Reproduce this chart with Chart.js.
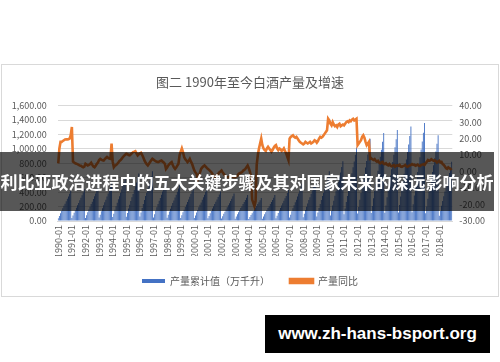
<!DOCTYPE html>
<html>
<head>
<meta charset="utf-8">
<script src="https://cdn.jsdelivr.net/npm/chart.js@4.4.1/dist/chart.umd.min.js"></script>
<style>
  html, body { margin: 0; padding: 0; background: #fff; }
  #wrap { position: relative; width: 500px; height: 362px; overflow: hidden; }
  #chart { position: absolute; left: 0; top: 0; }
  #frame { position: absolute; left: 1px; top: 64px; width: 496px; height: 231px; border: 1px solid #d9d9d9; pointer-events: none; }
  #banner { position: absolute; left: 0; top: 152px; width: 494px; height: 59px; background: rgba(0,0,0,0.66);
    color: #fff; font: bold 17px "Noto Sans CJK SC", sans-serif; line-height: 59px; text-align: center; white-space: nowrap; }
  #mark { position: absolute; left: 265px; top: 315px; width: 225px; height: 38px; background: #000;
    color: #fff; font: bold 17px "Liberation Sans", Arial, sans-serif; line-height: 38px; text-align: center; }
</style>
</head>
<body>
<div id="wrap">
  <div id="frame"></div>
  <canvas id="chart" width="500" height="362"></canvas>
  <div id="banner">利比亚政治进程中的五大关键步骤及其对国家未来的深远影响分析</div>
  <div id="mark">www.zh-hans-bsport.org</div>
</div>
<script>
document.addEventListener("DOMContentLoaded", () => {

  // =============================
  // DATA
  // =============================

  const years = [1990, 1991, 1992, 1993, 1994, 1995, 1996, 1997, 1998, 1999,
    2000, 2001, 2002, 2003, 2004, 2005, 2006, 2007, 2008, 2009,
    2010, 2011, 2012, 2013, 2014, 2015, 2016, 2017, 2018];
  const months = ["01", "02", "03", "04", "05", "06", "07", "08", "09", "10", "11", "12"];

  // cumulative output (万千升), one row per year, Jan..Dec
  const outputByYear = [
    [38, 71, 109, 143, 176, 210, 239, 273, 307, 340, 378, 420],
    [40, 75, 114, 150, 185, 220, 251, 286, 321, 356, 396, 440],
    [42, 80, 122, 160, 197, 235, 268, 306, 343, 381, 423, 470],
    [47, 88, 135, 177, 218, 260, 296, 338, 380, 421, 468, 520],
    [54, 102, 156, 204, 252, 300, 342, 390, 438, 486, 540, 600],
    [59, 112, 172, 224, 277, 330, 376, 429, 482, 535, 594, 660],
    [62, 117, 179, 235, 290, 345, 393, 449, 504, 559, 621, 690],
    [50, 95, 146, 190, 235, 280, 319, 364, 409, 454, 504, 560],
    [45, 85, 130, 170, 210, 250, 285, 325, 365, 405, 450, 500],
    [41, 78, 120, 156, 193, 230, 262, 299, 336, 373, 414, 460],
    [41, 77, 117, 153, 189, 225, 257, 293, 329, 365, 405, 450],
    [37, 70, 107, 139, 172, 205, 234, 267, 299, 332, 369, 410],
    [34, 65, 99, 129, 160, 190, 217, 247, 277, 308, 342, 380],
    [32, 61, 94, 122, 151, 180, 205, 234, 263, 292, 324, 360],
    [29, 54, 83, 109, 134, 160, 182, 208, 234, 259, 288, 320],
    [32, 61, 94, 122, 151, 180, 205, 234, 263, 292, 324, 360],
    [39, 73, 112, 146, 181, 215, 245, 280, 314, 348, 387, 430],
    [47, 88, 135, 177, 218, 260, 296, 338, 380, 421, 468, 520],
    [52, 99, 151, 197, 244, 290, 331, 377, 423, 470, 522, 580],
    [62, 117, 179, 235, 290, 345, 393, 449, 504, 559, 621, 690],
    [75, 141, 216, 282, 349, 415, 473, 540, 606, 672, 747, 830],
    [92, 173, 265, 347, 428, 510, 581, 663, 745, 826, 918, 1020],
    [103, 194, 296, 388, 479, 570, 650, 741, 832, 923, 1026, 1140],
    [110, 207, 317, 415, 512, 610, 695, 793, 891, 988, 1098, 1220],
    [113, 214, 328, 428, 529, 630, 718, 819, 920, 1021, 1134, 1260],
    [118, 223, 341, 445, 550, 655, 747, 852, 956, 1061, 1179, 1310],
    [122, 231, 354, 462, 571, 680, 775, 884, 993, 1102, 1224, 1360],
    [107, 202, 309, 405, 500, 595, 678, 774, 869, 964, 1071, 1190],
    [74, 139, 213, 279, 344, 410, 467, 533, 599, 664, 738, 820]
  ];

  // year-on-year growth (%), one row per year, Jan..Dec
  const growthByYear = [
    [5, 14, 18, 18, 18.5, 19, 19.5, 19.6, 19.5, 19.6, 20, 22],
    [27, 6, 5.5, 5, 4.7, 4.5, 4, 3.7, 3.5, 3, 2.6, 3],
    [4.7, 4.2, 3.7, 4, 4.5, 5.3, 4, 3, 2.6, 3.5, 4.7, 5.5],
    [7, 7.7, 7.2, 6.8, 6.7, 7.5, 8.2, 8.8, 8.3, 7.9, 7.7, 17],
    [6, 2.6, 3.5, 4, 4.7, 5.5, 6.5, 7, 7.8, 8.8, 9.5, 10.2],
    [10.8, 10.5, 10, 9.8, 10.5, 11.2, 11.8, 12, 12.3, 11, 9.8, 10.5],
    [11, 11.4, 10, 8.5, 6.7, 5.5, 4.5, 3.7, 4.7, 5.8, 6.8, 7.7],
    [7.2, 6.7, 6.2, 6, 5.7, 6, 6.5, 6.7, 6, 5.5, 4.7, 1.6],
    [2.5, 3.7, 4.5, 5.2, 5.7, 4, 2.5, 1.6, 2.5, 3.6, 4.7, 9.8],
    [12, 14, 11.8, 8.8, 7.5, 6.7, 5.7, 6.5, 7.7, 6, 4.7, 2.6],
    [0.6, -0.5, -1.5, -4.5, -2.5, -0.5, 1.6, 2.5, 3.2, 3.7, 3, 2.2],
    [1.6, 1, 0.3, -0.4, -1.5, -2.5, -3.5, -2.8, -2, -1.5, -0.5, 0],
    [0.6, -0.5, -1.5, -2.5, -3, -3.5, -3.5, -3, -2.5, -2.8, -3.2, -3.5],
    [-3.5, -3, -2.5, -1.5, -1, -0.7, -0.4, 0.5, 1, 1.6, 2.7, 3.7],
    [2, 0, -3, -17, -19, -21, -18, 4, 10, 14, 17, 20],
    [16, 14, 13, 12.5, 14, 15, 14, 13, 12, 13, 14.5, 15.5],
    [16, 14, 13, 14, 13.5, 12.5, 13, 14, 12.5, 11, 9, 7],
    [20, 21, 21.5, 22, 21, 20.5, 21, 20, 19, 18, 17.5, 17],
    [16.5, 17, 18, 17.5, 17, 17.5, 18, 17, 17.5, 18, 19, 18.5],
    [17.5, 18.5, 20, 21, 20.5, 21, 22, 23, 24, 25, 32, 31],
    [29, 28, 30, 28.5, 27.5, 28, 27, 28.5, 29, 27.5, 28, 28.5],
    [28, 29, 30, 30.5, 30, 31, 30.5, 31.5, 32, 31, 31.5, 32],
    [16, 17, 18, 19, 21, 22, 20.5, 18, 16, 17, 18, 7.7],
    [8, 7.5, 7, 7.5, 6.5, 6, 6.5, 5.5, 5, 5.5, 5.8, 4.7],
    [4.5, 5, 4.2, 3.8, 4.5, 3.5, 3.2, 3.6, 3.9, 3, 3.5, 3.7],
    [3.5, 4, 3, 2.8, 3.3, 3.5, 4, 3.2, 2.9, 3.4, 3.6, 4],
    [4.5, 4, 4.2, 3.5, 3.8, 4.2, 3.6, 3.3, 3.9, 4.2, 4.5, 4],
    [5, 6, 7, 6.5, 6.8, 7.5, 7, 6.5, 6.8, 6.2, 5.5, 6],
    [6.5, 5.5, 5.8, 4.5, 4, 3, 2, 1.6, 2.5, 2, 1.5, 2]
  ];

  const leftTicks = { min: 0, max: 1600, step: 200 };
  const rightTicks = { min: -30, max: 40, step: 10 };

  // =============================
  // BUILD
  // =============================

  const labels = [];
  years.forEach(y => months.forEach(m => labels.push(y + "-" + m)));
  const output = outputByYear.flat();
  const growth = growthByYear.flat();

  const grey = "#595959";
  const cjk = "'Noto Sans CJK SC', sans-serif";
  const fmt = v => Number(v).toLocaleString("en-US", { minimumFractionDigits: 2, maximumFractionDigits: 2 });

  new Chart(document.getElementById("chart"), {
    type: "bar",
    data: {
      labels: labels,
      datasets: [{
        label: "产量累计值（万千升）",
        data: output,
        backgroundColor: "#4472C4",
        borderWidth: 0,
        barPercentage: 0.8,
        categoryPercentage: 1,
        yAxisID: "y",
        order: 1
      }, {
        type: "line",
        label: "产量同比",
        data: growth,
        borderColor: "#ED7D31",
        backgroundColor: "#ED7D31",
        borderWidth: 2.6,
        pointRadius: 0,
        tension: 0,
        yAxisID: "y1",
        order: 0
      }]
    },
    options: {
      responsive: false,
      animation: false,
      layout: { padding: { left: 0, right: 0, top: 0, bottom: 66 } },
      plugins: {
        title: {
          display: true,
          text: "图二 1990年至今白酒产量及增速",
          color: grey,
          font: { family: cjk, size: 13, weight: "normal" },
          padding: { top: 74, bottom: 16 }
        },
        legend: {
          position: "bottom",
          labels: {
            color: grey,
            font: { family: cjk, size: 10 },
            boxWidth: 23,
            boxHeight: 4,
            padding: 20,
            sort: (a, b) => a.datasetIndex - b.datasetIndex
          }
        },
        tooltip: { enabled: false }
      },
      scales: {
        x: {
          grid: { display: false, drawTicks: false },
          border: { display: true, color: "#d9d9d9" },
          ticks: {
            autoSkip: false,
            minRotation: 90,
            maxRotation: 90,
            padding: 4,
            color: grey,
            font: { family: cjk, size: 9 },
            callback: function (v) {
              const l = this.getLabelForValue(v);
              return l.endsWith("-01") ? l : "";
            }
          },
          afterFit: s => { s.height = 35; }
        },
        y: {
          position: "left",
          min: leftTicks.min,
          max: leftTicks.max,
          grid: { color: "#d9d9d9", drawTicks: false },
          border: { display: false },
          ticks: { stepSize: leftTicks.step, padding: 11, color: grey, font: { family: cjk, size: 9 }, callback: fmt },
          afterFit: s => { s.width = 57.7; }
        },
        y1: {
          position: "right",
          min: rightTicks.min,
          max: rightTicks.max,
          grid: { display: false, drawTicks: false },
          border: { display: false },
          ticks: { stepSize: rightTicks.step, padding: 7, color: grey, font: { family: cjk, size: 9 }, callback: fmt },
          afterFit: s => { s.width = 47.7; }
        }
      }
    }
  });

});
</script>
</body>
</html>
